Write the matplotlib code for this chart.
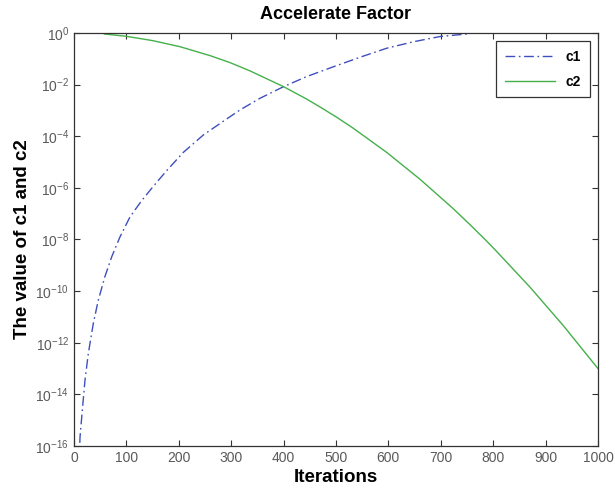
import math
import matplotlib
matplotlib.use("Agg")
import matplotlib.pyplot as plt
from matplotlib.ticker import FixedLocator, FuncFormatter

# Data (iterations and log10 of the values)
c1_x = [10, 11.5, 16.5, 21, 27.4, 36.9, 46.4, 59, 72, 87.8, 107, 129, 151, 177, 209, 247, 285, 317,
        355, 400, 444, 495, 546, 597, 648, 698, 749, 760]
c1_log = [-16.6, -15.66, -14.48, -13.45, -12.41, -11.25, -10.35, -9.44, -8.67, -7.9, -7.12, -6.5,
          -5.95, -5.33, -4.62, -3.95, -3.42, -2.98, -2.53, -2.08, -1.69, -1.31, -0.94, -0.59,
          -0.34, -0.14, -0.04, 0.0]
c2_x = [58, 100, 151, 202, 260, 298, 336, 400, 444, 469, 501, 533, 597, 660, 724, 756, 788, 806,
        870, 934, 1000]
c2_log = [-0.04, -0.13, -0.30, -0.53, -0.88, -1.15, -1.47, -2.08, -2.56, -2.86, -3.26, -3.69,
          -4.63, -5.66, -6.81, -7.43, -8.07, -8.45, -9.84, -11.34, -13.0]
c1_y = [10 ** v for v in c1_log]
c2_y = [10 ** v for v in c2_log]

x_ticks = [0, 100, 200, 300, 400, 500, 600, 700, 800, 900, 1000]
y_exps = [0, -2, -4, -6, -8, -10, -12, -14, -16]

plt.rcParams['font.family'] = ['Liberation Sans', 'DejaVu Sans']
plt.rcParams['mathtext.fontset'] = 'custom'
plt.rcParams['mathtext.rm'] = 'Liberation Sans'

fig = plt.figure(figsize=(6.15, 4.92), dpi=100)
ax = fig.add_axes([0.1203, 0.0935, 0.852, 0.8395])

ax.plot(c1_x, c1_y, color='#3e4fbe', linestyle=(0, (7, 2.6, 1.2, 2.6)), linewidth=1.0, label='c1')
ax.plot(c2_x, c2_y, color='#45b04a', linestyle='-', linewidth=1.0, label='c2')

ax.set_yscale('log')
ax.set_xlim(0, 1000)
ax.set_ylim(1e-16, 1e0)
ax.xaxis.set_major_locator(FixedLocator(x_ticks))
ax.yaxis.set_major_locator(FixedLocator([10.0 ** e for e in y_exps]))
ax.yaxis.set_minor_locator(FixedLocator([]))
ax.xaxis.set_minor_locator(FixedLocator([]))
ax.yaxis.set_major_formatter(FuncFormatter(lambda v, p: r'$10^{%d}$' % round(math.log10(v))))

ax.tick_params(direction='in', top=True, right=True, length=4, width=0.8,
               labelsize=10, labelcolor='#5a5a5a', color='#333333')
for s in ax.spines.values():
    s.set_color('#333333')
    s.set_linewidth(0.9)

ax.set_title('Accelerate Factor', fontsize=13, fontweight='bold', pad=10)
ax.set_xlabel('Iterations', fontsize=13.5, fontweight='bold', labelpad=3)
ax.set_ylabel('The value of c1 and c2', fontsize=13.5, fontweight='bold', labelpad=3)

leg = ax.legend(loc='upper right', fancybox=False, edgecolor='#333333', framealpha=1,
                prop={'weight': 'bold', 'size': 10}, borderaxespad=0.6, handlelength=3.6,
                borderpad=0.6, labelspacing=0.8, handletextpad=0.8)
leg.get_frame().set_linewidth(0.9)

fig.savefig('out.png', dpi=100)
